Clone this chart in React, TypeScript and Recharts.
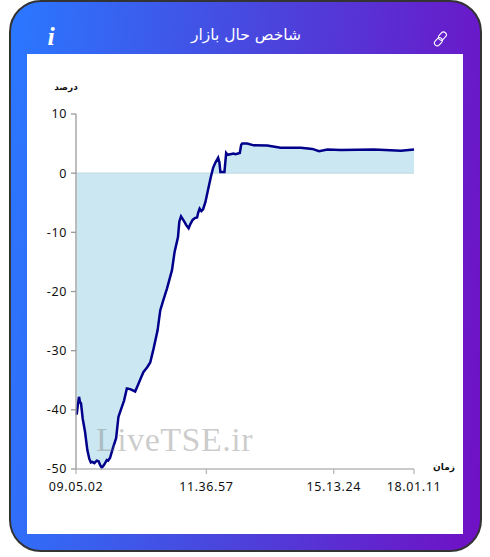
import React from 'react';
import { ComposedChart, Area, Line, XAxis, YAxis, ReferenceLine } from 'recharts';

const sampleIndex = [0.7,1.6,3,4,5,6.7,9,11.3,13.3,14.8,16.3,18.3,20.7,22.5,24,25.7,28,30.7,32,34,36.7,40,42.3,44.7,48,50.7,54,59,62.3,65,67.3,71,74,77.3,81.3,84,87,90.7,95.7,98.3,101.7,103,104.7,108,110,112.3,114,116.3,118.5,120.7,122,123.3,125,126.7,129,132.3,134.5,136.7,139,141.7,143,144,146,148,149.7,151,154,157,159,163.3,164.7,165.7,170.7,177.3,190.7,204,224,235.7,242.3,250.7,264,297.3,324,337];
const percentValues = [-40.8,-39.5,-37.8,-38.7,-38.9,-41.5,-43.7,-46.8,-48.3,-48.9,-48.8,-49,-48.6,-48.7,-49.3,-49.8,-49.3,-48.5,-48.6,-48.1,-46.5,-44.8,-41.2,-40,-38.4,-36.4,-36.5,-36.9,-35.6,-34.5,-33.6,-32.8,-32,-29.7,-26.6,-23.2,-21.5,-19.5,-16.4,-13.3,-10.8,-8.2,-7.3,-8.2,-8.8,-9.3,-8.6,-7.9,-7.6,-7.5,-6.6,-6,-6.4,-6.1,-4.9,-2.3,-0.6,0.9,1.8,2.6,1.8,0.2,0.2,0.2,3.4,3.1,3.2,3.3,3.2,3.4,4.8,5,5,4.7,4.66,4.3,4.3,4.1,3.7,4,3.9,4,3.8,4];
const yTicks = [10,0,-10,-20,-30,-40,-50];
const xTicks = [0,130,257,337];
const xTickLabels = ['09.05.02','11.36.57','15.13.24','18.01.11'];
const title = 'شاخص حال بازار';
const yLabel = 'درصد';
const xLabel = 'زمان';
const watermark = 'LiveTSE.ir';

const rows = sampleIndex.map((i, k) => ({ i, v: percentValues[k] }));
const tickFont = { fontFamily: '"Noto Sans", sans-serif', fontSize: 12.5, fill: '#111', letterSpacing: 0.6 };
const abs = (o: React.CSSProperties): React.CSSProperties => ({ position: 'absolute', ...o });

export default function App() {
  return (
    <div style={abs({ left: 0, top: 0, width: 490, height: 557, background: '#fff', overflow: 'hidden' })}>
      <div style={abs({ left: 9, top: 0, width: 473, height: 552, boxSizing: 'border-box', borderRadius: 32, border: '2px solid #333', background: 'linear-gradient(95deg,#2a78ff 0%,#4a45dd 50%,#7010c5 100%)' })} />
      <div style={abs({ left: 27, top: 54, width: 436, height: 480, background: '#fff' })} />
      <div style={abs({ left: 140, top: 22, width: 212, textAlign: 'center', color: '#fff', fontFamily: '"DejaVu Sans", sans-serif', fontSize: 15.5, lineHeight: '26px', direction: 'rtl' })}>{title}</div>
      <div style={abs({ left: 44, top: 22, width: 14, textAlign: 'center', color: '#fff', fontFamily: '"Liberation Serif", serif', fontStyle: 'italic', fontWeight: 700, fontSize: 26, lineHeight: '30px' })}>i</div>
      <svg style={abs({ left: 432, top: 31 })} width="17" height="16" viewBox="0 0 17 16" fill="none" stroke="#fff" strokeWidth="1.1">
        <rect x="7.6" y="0.6" width="5.6" height="9" rx="2.8" transform="rotate(42 10.4 5.1)" />
        <rect x="3.6" y="6.2" width="5.6" height="9" rx="2.8" transform="rotate(42 6.4 10.7)" />
      </svg>
      <ComposedChart
        style={abs({ left: 0, top: 0 })}
        width={490}
        height={557}
        data={rows}
        margin={{ top: 114, right: 76, bottom: 58, left: 36 }}
      >
        <XAxis
          dataKey="i"
          type="number"
          domain={[0, 337]}
          ticks={xTicks}
          interval={0}
          height={30}
          tickSize={5}
          tickMargin={8}
          stroke="#b8b8b8"
          strokeWidth={1.3}
          tick={tickFont}
          tickFormatter={(t: number) => xTickLabels[xTicks.indexOf(t)]}
        />
        <YAxis
          type="number"
          domain={[-50, 10]}
          ticks={yTicks}
          interval={0}
          width={40}
          tickSize={5}
          tickMargin={4}
          stroke="#999"
          strokeWidth={1.3}
          tick={tickFont}
        />
        <Area dataKey="v" baseValue={0} stroke="none" fill="#cbe7f1" fillOpacity={1} isAnimationActive={false} dot={false} activeDot={false} />
        <ReferenceLine y={0} stroke="#c3dde6" strokeWidth={1.2} />
        <Line dataKey="v" stroke="#00008b" strokeWidth={2.5} dot={false} activeDot={false} isAnimationActive={false} />
      </ComposedChart>
      <div style={abs({ left: 96, top: 420, color: 'rgba(120,120,120,0.38)', fontFamily: '"Liberation Serif", serif', fontSize: 34, lineHeight: '40px', letterSpacing: 0.5, whiteSpace: 'nowrap' })}>{watermark}</div>
      <div style={abs({ left: 46, top: 79, width: 40, textAlign: 'center', fontFamily: '"DejaVu Sans", sans-serif', fontWeight: 700, fontSize: 9, lineHeight: '16px', color: '#111', direction: 'rtl' })}>{yLabel}</div>
      <div style={abs({ left: 424, top: 459, width: 40, textAlign: 'center', fontFamily: '"DejaVu Sans", sans-serif', fontWeight: 700, fontSize: 9, lineHeight: '16px', color: '#111', direction: 'rtl' })}>{xLabel}</div>
    </div>
  );
}
